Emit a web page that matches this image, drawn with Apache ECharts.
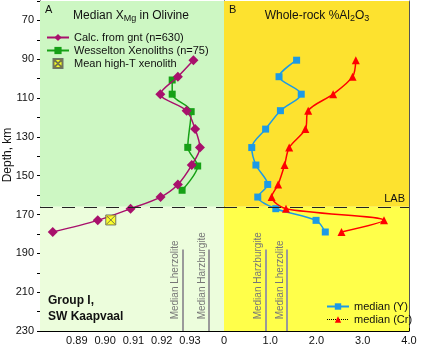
<!DOCTYPE html>
<html><head><meta charset="utf-8">
<script src="https://cdn.jsdelivr.net/npm/echarts@6/dist/echarts.min.js"></script>
<style>html,body{margin:0;padding:0;background:#fff}#c{width:422px;height:347px}</style>
</head><body><div id="c"></div>
<script>
// ---- data ----
const depthsGnt = [90.5, 99, 108, 116.5, 126, 135.5, 144.5, 154.5, 161, 167, 173, 179];
const xmgGnt = [0.9312, 0.9257, 0.9195, 0.9288, 0.9318, 0.9335, 0.9306, 0.9257, 0.9196, 0.9090, 0.8974, 0.8815];
const depthsWes = [100.7, 108, 117, 135.4, 145, 157.5];
const xmgWes = [0.9237, 0.9237, 0.9304, 0.9292, 0.9327, 0.9272];
const highTXmg = [0.9020];
const highTDepth = [172.8];
const depthsAl = [90.5, 99, 108, 116.5, 126, 135.5, 144.5, 154.5, 161, 167, 173, 179];
const alY = [1.57, 1.19, 1.67, 1.22, 0.90, 0.60, 0.69, 0.945, 0.73, 1.12, 1.99, 2.19];
const alCr = [2.85, 2.78, 2.36, 1.82, 1.76, 1.41, 1.31, 1.17, 1.03, 1.34, 3.46, 2.54];
const labDepth = 166;
const medianNamesA = ['Median Lherzolite', 'Median Harzburgite'];
const medianXmg = [0.9274, 0.9367];
const medianNamesB = ['Median Harzburgite', 'Median Lherzolite'];
const medianAl = [0.90, 1.36];
const medianDepthRange = [188, 230];
const medianLabelDepth = 224;
const xmgTickLabels = [0.89, 0.90, 0.91, 0.92, 0.93];
const xmgTicks = [0.88, 0.885, 0.89, 0.895, 0.90, 0.905, 0.91, 0.915, 0.92, 0.925, 0.93, 0.935, 0.94];
const depthLabels = [70, 90, 110, 130, 150, 170, 190, 210, 230];

const FONT = 'Liberation Sans';
const zip = (xs, ys) => xs.map((x, i) => [x, ys[i]]);

const chart = echarts.init(document.getElementById('c'), null, {renderer: 'canvas'});

function medianLines(xs) {
  return xs.map(x => [
    {coord: [x, medianDepthRange[1]]},
    {coord: [x, medianDepthRange[0]]}
  ]);
}

const baseGraphic = [
  {type: 'text', x: 45, y: 4, silent: true, z: 10, style: {text: 'A', font: '11px ' + FONT, fill: '#111'}},
  {type: 'text', x: 131, y: 9, silent: true, z: 10, style: {
    text: 'Median X{s|Mg} in Olivine', fill: '#111', fontSize: 12, fontFamily: FONT, align: 'center', lineHeight: 14,
    rich: {s: {fontSize: 9, fontFamily: FONT, verticalAlign: 'bottom', lineHeight: 5, fill: '#111'}}}},
  {type: 'text', x: 229, y: 4, silent: true, z: 10, style: {text: 'B', font: '11px ' + FONT, fill: '#111'}},
  {type: 'text', x: 317, y: 9, silent: true, z: 10, style: {
    text: 'Whole-rock %Al{s|2}O{s|3}', fill: '#111', fontSize: 12, fontFamily: FONT, align: 'center', lineHeight: 14,
    rich: {s: {fontSize: 9, fontFamily: FONT, verticalAlign: 'bottom', lineHeight: 5, fill: '#111'}}}},
  {type: 'text', x: 8, y: 155, rotation: Math.PI / 2, silent: true, z: 10, style: {
    text: 'Depth, km', fill: '#111', fontSize: 12, fontFamily: FONT, align: 'center', verticalAlign: 'middle'}},
  {type: 'text', x: 48, y: 295, silent: true, z: 10, style: {text: 'Group I,', font: 'bold 12px ' + FONT, fill: '#111'}},
  {type: 'text', x: 48, y: 311, silent: true, z: 10, style: {text: 'SW Kaapvaal', font: 'bold 12px ' + FONT, fill: '#111'}}
];

const option = {
  animation: false,
  textStyle: {fontFamily: FONT},
  grid: [
    {left: 40, top: 1, width: 184, height: 330, containLabel: false},
    {left: 224, top: 1, width: 185, height: 330, containLabel: false}
  ],
  xAxis: [
    {gridIndex: 0, type: 'value', min: 0.877, max: 0.942, position: 'bottom',
     axisLine: {show: true, onZero: false, lineStyle: {color: '#000'}},
     axisTick: {show: true, inside: true, length: 3, customValues: xmgTicks, lineStyle: {color: '#000'}},
     axisLabel: {customValues: xmgTickLabels, formatter: v => v.toFixed(2), color: '#111', fontSize: 11, margin: 4, fontFamily: FONT},
     splitLine: {show: false}},
    {gridIndex: 0, type: 'value', min: 0.877, max: 0.942, position: 'top',
     axisLine: {show: true, onZero: false, lineStyle: {color: '#888'}},
     axisTick: {show: false}, axisLabel: {show: false}, splitLine: {show: false}},
    {gridIndex: 1, type: 'value', min: 0, max: 4, interval: 0.5, position: 'bottom',
     axisLine: {show: true, onZero: false, lineStyle: {color: '#000'}},
     axisTick: {show: true, inside: true, length: 3, lineStyle: {color: '#000'}},
     axisLabel: {formatter: v => v === 0 ? '0' : (Math.abs(v % 1) < 1e-9 ? v.toFixed(1) : ''), color: '#111', fontSize: 11, margin: 4, fontFamily: FONT, showMaxLabel: true},
     splitLine: {show: false}},
    {gridIndex: 1, type: 'value', min: 0, max: 4, position: 'top',
     axisLine: {show: true, onZero: false, lineStyle: {color: '#888'}},
     axisTick: {show: false}, axisLabel: {show: false}, splitLine: {show: false}}
  ],
  yAxis: [
    {gridIndex: 0, type: 'value', inverse: true, min: 60, max: 230, interval: 10, position: 'left',
     axisLine: {show: true, onZero: false, lineStyle: {color: '#000'}},
     axisTick: {show: true, inside: false, length: 3, lineStyle: {color: '#000'}},
     axisLabel: {formatter: v => depthLabels.indexOf(v) >= 0 ? String(v) : '', color: '#111', fontSize: 11, margin: 6, fontFamily: FONT},
     splitLine: {show: false}},
    {gridIndex: 1, type: 'value', inverse: true, min: 60, max: 230, interval: 10, position: 'left',
     axisLine: {show: true, onZero: false, lineStyle: {color: '#000'}},
     axisTick: {show: true, inside: true, length: 3, lineStyle: {color: '#000'}},
     axisLabel: {show: false}, splitLine: {show: false}},
    {gridIndex: 1, type: 'value', inverse: true, min: 60, max: 230, interval: 10, position: 'right',
     axisLine: {show: true, onZero: false, lineStyle: {color: '#555'}},
     axisTick: {show: true, inside: true, length: 3, lineStyle: {color: '#000'}},
     axisLabel: {show: false}, splitLine: {show: false}}
  ],
  legend: [
    {left: 46, top: 32, orient: 'vertical', itemGap: 2, itemWidth: 22, itemHeight: 9,
     textStyle: {fontSize: 11, color: '#111', fontFamily: FONT}, padding: 0,
     data: ['Calc. from gnt (n=630)', 'Wesselton Xenoliths (n=75)', 'Mean high-T xenolith']},
    {left: 326, top: 301, orient: 'vertical', itemGap: 2, itemWidth: 22, itemHeight: 8,
     textStyle: {fontSize: 11, color: '#111', fontFamily: FONT}, padding: 0,
     data: [{name: 'median (Y)'},
            {name: 'median (Cr)', lineStyle: {color: '#000', type: 'dotted', width: 1}}]}
  ],
  series: [
    {type: 'line', xAxisIndex: 0, yAxisIndex: 0, data: [], z: 0, silent: true,
     markArea: {silent: true, data: [
       [{yAxis: 60, itemStyle: {color: '#cdf7c3'}}, {yAxis: labDepth}],
       [{yAxis: labDepth, itemStyle: {color: '#ecfddc'}}, {yAxis: 230}]
     ]},
     markLine: {silent: true, symbol: 'none', label: {show: false},
       lineStyle: {color: '#222', type: [13, 9], width: 1.2},
       data: [{yAxis: labDepth}]}},
    {type: 'line', xAxisIndex: 2, yAxisIndex: 1, data: [], z: 0, silent: true,
     markArea: {silent: true, data: [
       [{yAxis: 60, itemStyle: {color: '#fde22f'}}, {yAxis: labDepth}],
       [{yAxis: labDepth, itemStyle: {color: '#ffff4a'}}, {yAxis: 230}]
     ]},
     markLine: {silent: true, symbol: 'none',
       label: {show: true, formatter: 'LAB', position: 'insideEndTop', color: '#111', fontSize: 11, fontFamily: FONT, distance: [4, 2]},
       lineStyle: {color: '#222', type: [13, 9], width: 1.2},
       data: [{yAxis: labDepth}]}},
    {type: 'line', xAxisIndex: 0, yAxisIndex: 0, data: [], z: 1, silent: true,
     markLine: {silent: true, symbol: 'none', label: {show: false},
       lineStyle: {color: '#9a9a9a', type: 'solid', width: 2},
       data: medianLines(medianXmg)}},
    {type: 'line', xAxisIndex: 2, yAxisIndex: 1, data: [], z: 1, silent: true,
     markLine: {silent: true, symbol: 'none', label: {show: false},
       lineStyle: {color: '#9a9a9a', type: 'solid', width: 2},
       data: medianLines(medianAl)}},
    {name: 'Calc. from gnt (n=630)', type: 'line', xAxisIndex: 0, yAxisIndex: 0, z: 4,
     data: zip(xmgGnt, depthsGnt), smooth: 0.3, symbol: 'diamond', symbolSize: 10,
     itemStyle: {color: '#a8106c'}, lineStyle: {color: '#a8106c', width: 1.5}},
    {name: 'Wesselton Xenoliths (n=75)', type: 'line', xAxisIndex: 0, yAxisIndex: 0, z: 3,
     data: zip(xmgWes, depthsWes), smooth: 0.3, symbol: 'rect', symbolSize: 7,
     itemStyle: {color: '#16a016'}, lineStyle: {color: '#16a016', width: 1.5}},
    {name: 'Mean high-T xenolith', type: 'scatter', xAxisIndex: 0, yAxisIndex: 0, z: 5,
     data: zip(highTXmg, highTDepth),
     symbol: 'path://M0 0H10V10H0Z M1 1L9 9 M9 1L1 9', symbolSize: 10,
     itemStyle: {color: '#ffff00', borderColor: '#555', borderWidth: 1}},
    {name: 'median (Y)', type: 'line', xAxisIndex: 2, yAxisIndex: 1, z: 3,
     data: zip(alY, depthsAl), smooth: 0.3, symbol: 'rect', symbolSize: 7,
     itemStyle: {color: '#1c9ae6'}, lineStyle: {color: '#1c9ae6', width: 1.5}},
    {name: 'median (Cr)', type: 'line', xAxisIndex: 2, yAxisIndex: 1, z: 4,
     data: zip(alCr, depthsAl), smooth: 0.3, symbol: 'triangle', symbolSize: 8,
     itemStyle: {color: '#ff0000'}, lineStyle: {color: '#ff0000', width: 1.5}}
  ],
  graphic: baseGraphic
};
chart.setOption(option);

// rotated labels beside the median reference lines, placed through the axes
function medianLabel(name, x, axes) {
  const p = chart.convertToPixel(axes, [x, medianLabelDepth]);
  return {type: 'text', x: p[0] - 2, y: p[1], rotation: Math.PI / 2, silent: true, z: 10,
    style: {text: name, fill: '#777', fontSize: 10, fontFamily: FONT, align: 'left', verticalAlign: 'bottom'}};
}
const extra = [];
medianXmg.forEach((x, i) => extra.push(medianLabel(medianNamesA[i], x, {xAxisIndex: 0, yAxisIndex: 0})));
medianAl.forEach((x, i) => extra.push(medianLabel(medianNamesB[i], x, {xAxisIndex: 2, yAxisIndex: 1})));
chart.setOption({graphic: baseGraphic.concat(extra)});
</script></body></html>
